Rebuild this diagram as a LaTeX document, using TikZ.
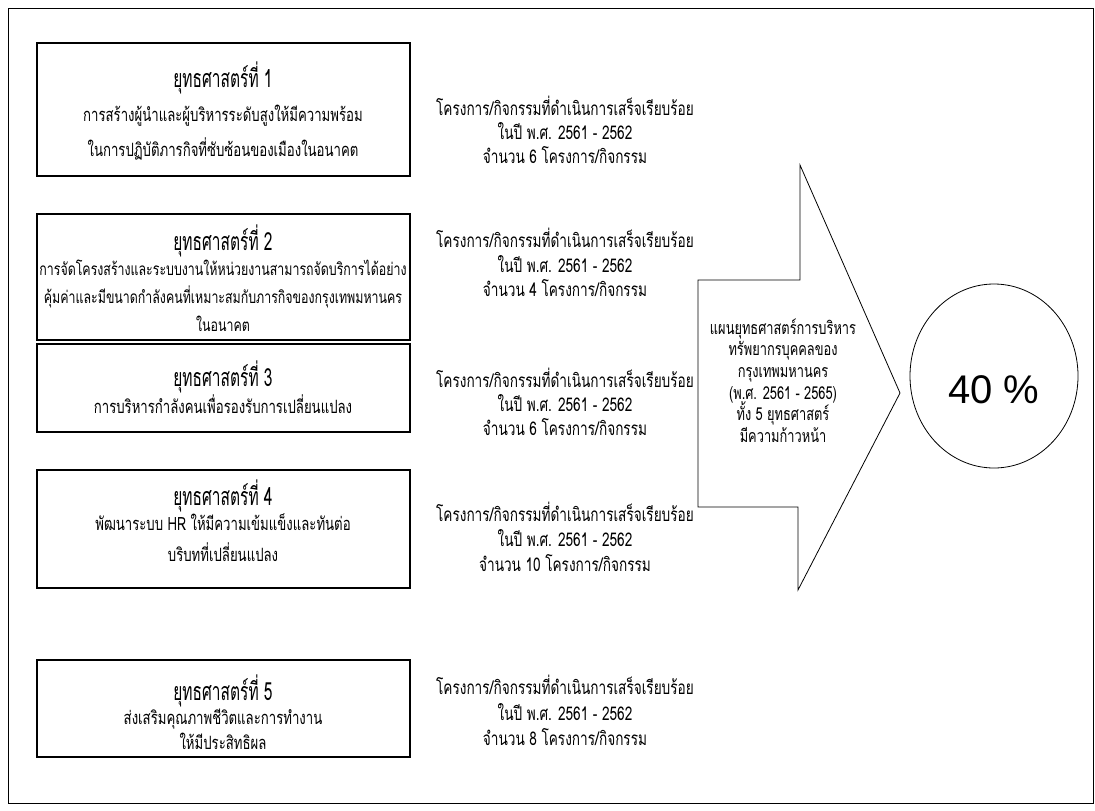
\documentclass[tikz,border=0pt]{standalone}
\usepackage{fontspec}
\setmainfont{Liberation Sans}
\newfontfamily\thai[Script=Thai,FakeStretch=0.72]{Loma}
\newfontfamily\thaittl[Script=Thai,FakeStretch=0.62]{Loma}
\begin{document}
\begin{tikzpicture}[x=1pt,y=-1pt,
  frame/.style={draw=black,line width=0.9pt},
  sbox/.style={draw=black,line width=1.1pt,minimum width=373pt,inner sep=0pt},
  ttl/.style={anchor=base,inner sep=0pt,font=\thaittl\fontsize{25}{27}\selectfont},
  txt/.style={anchor=base,inner sep=0pt,font=\thai\fontsize{18.3}{20}\selectfont},
  txtn/.style={anchor=base,inner sep=0pt,font=\thai\fontsize{17.2}{20}\selectfont},
  ptxt/.style={anchor=base,inner sep=0pt,font=\thai\fontsize{18.9}{20}\selectfont},
  atxt/.style={anchor=base,inner sep=0pt,font=\thai\fontsize{17.8}{20}\selectfont},
  big/.style={anchor=base,inner sep=0pt,font=\fontsize{40}{44}\selectfont}]
\useasboundingbox (0,0) rectangle (1095,811);
\fill[white] (0,0) rectangle (1095,811);
\draw[frame] (8,8) rectangle (1093,803);
% strategy boxes
\node[sbox,minimum height=133pt] (b1) at (223.5,109.5) {};
\node[sbox,minimum height=126pt] (b2) at (223.5,277) {};
\node[sbox,minimum height=88pt] (b3) at (223.5,388) {};
\node[sbox,minimum height=118pt] (b4) at (223.5,529) {};
\node[sbox,minimum height=97pt] (b5) at (223.5,708.5) {};
% box texts
\node[ttl] (t1a) at (223,87) {ยุทธศาสตร์ที่ 1};
\node[txt] (t1b) at (223,121) {การสร้างผู้นำและผู้บริหารระดับสูงให้มีความพร้อม};
\node[txt] (t1c) at (223,156) {ในการปฏิบัติภารกิจที่ซับซ้อนของเมืองในอนาคต};
\node[ttl] (t2a) at (223,250) {ยุทธศาสตร์ที่ 2};
\node[txtn] (t2b) at (223,275) {การจัดโครงสร้างและระบบงานให้หน่วยงานสามารถจัดบริการได้อย่าง};
\node[txtn] (t2c) at (223,303) {คุ้มค่าและมีขนาดกำลังคนที่เหมาะสมกับภารกิจของกรุงเทพมหานคร};
\node[txtn] (t2d) at (223,331) {ในอนาคต};
\node[ttl] (t3a) at (223,386) {ยุทธศาสตร์ที่ 3};
\node[txt] (t3b) at (223,413) {การบริหารกำลังคนเพื่อรองรับการเปลี่ยนแปลง};
\node[ttl] (t4a) at (223,505) {ยุทธศาสตร์ที่ 4};
\node[txt] (t4b) at (223,530) {พัฒนาระบบ HR ให้มีความเข้มแข็งและทันต่อ};
\node[txt] (t4c) at (223,561) {บริบทที่เปลี่ยนแปลง};
\node[ttl] (t5a) at (223,700) {ยุทธศาสตร์ที่ 5};
\node[txt] (t5b) at (223,724) {ส่งเสริมคุณภาพชีวิตและการทำงาน};
\node[txt] (t5c) at (223,749) {ให้มีประสิทธิผล};
% project texts
\node[ptxt] (p1a) at (565,115) {โครงการ/กิจกรรมที่ดำเนินการเสร็จเรียบร้อย};
\node[ptxt] (p1b) at (565,139) {ในปี พ.ศ. 2561 - 2562};
\node[ptxt] (p1c) at (565,163) {จำนวน 6 โครงการ/กิจกรรม};
\node[ptxt] (p2a) at (565,247) {โครงการ/กิจกรรมที่ดำเนินการเสร็จเรียบร้อย};
\node[ptxt] (p2b) at (565,272) {ในปี พ.ศ. 2561 - 2562};
\node[ptxt] (p2c) at (565,296) {จำนวน 4 โครงการ/กิจกรรม};
\node[ptxt] (p3a) at (565,387) {โครงการ/กิจกรรมที่ดำเนินการเสร็จเรียบร้อย};
\node[ptxt] (p3b) at (565,411) {ในปี พ.ศ. 2561 - 2562};
\node[ptxt] (p3c) at (565,435) {จำนวน 6 โครงการ/กิจกรรม};
\node[ptxt] (p4a) at (565,521) {โครงการ/กิจกรรมที่ดำเนินการเสร็จเรียบร้อย};
\node[ptxt] (p4b) at (565,546) {ในปี พ.ศ. 2561 - 2562};
\node[ptxt] (p4c) at (565,571) {จำนวน 10 โครงการ/กิจกรรม};
\node[ptxt] (p5a) at (565,694) {โครงการ/กิจกรรมที่ดำเนินการเสร็จเรียบร้อย};
\node[ptxt] (p5b) at (565,720) {ในปี พ.ศ. 2561 - 2562};
\node[ptxt] (p5c) at (565,745) {จำนวน 8 โครงการ/กิจกรรม};
% big arrow
\draw[line width=0.8pt,line join=miter]
  (698,280) -- (800,280) -- (800,165) -- (900,393) -- (798,590) -- (798,507) -- (698,507) -- cycle;
\node[atxt] (a1) at (783,334) {แผนยุทธศาสตร์การบริหาร};
\node[atxt] (a2) at (783,355) {ทรัพยากรบุคคลของ};
\node[atxt] (a3) at (783,377) {กรุงเทพมหานคร};
\node[atxt] (a4) at (783,399) {(พ.ศ. 2561 - 2565)};
\node[atxt] (a5) at (783,420) {ทั้ง 5 ยุทธศาสตร์};
\node[atxt] (a6) at (783,442) {มีความก้าวหน้า};
% circle
\draw[line width=0.8pt] (994,376) ellipse [x radius=84pt,y radius=92pt];
\node[big] (pct) at (994,403) {40 \%};
\end{tikzpicture}
\end{document}
